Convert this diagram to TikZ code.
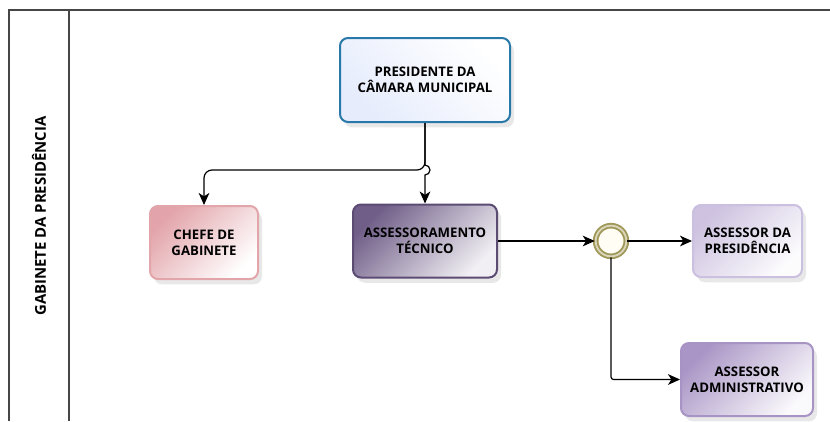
\documentclass[tikz,border=0pt]{standalone}
\usepackage{fontspec}
\setmainfont{Open Sans}
\usetikzlibrary{arrows.meta,shadows}

\definecolor{presborder}{RGB}{40,120,170}
\definecolor{presfill}{RGB}{230,236,252}
\definecolor{chefborder}{RGB}{226,166,170}
\definecolor{cheffill}{RGB}{226,164,170}
\definecolor{tecborder}{RGB}{92,76,116}
\definecolor{tecfill}{RGB}{112,94,136}
\definecolor{apborder}{RGB}{204,192,224}
\definecolor{apfill}{RGB}{206,194,224}
\definecolor{admborder}{RGB}{168,148,196}
\definecolor{admfill}{RGB}{170,150,198}
\definecolor{gateborder}{RGB}{160,152,88}
\definecolor{laneline}{RGB}{70,70,70}

\tikzset{
	task/.style={draw, line width=1.5pt, rounded corners=6pt, align=center,
		font=\bfseries\fontsize{9.9}{12}\selectfont, text=black,
		drop shadow={shadow xshift=3pt, shadow yshift=-4pt, opacity=0.18}},
	flow/.style={line width=0.9pt, -{Stealth[length=9pt,width=8pt,inset=2.5pt]}},
}

\begin{document}
\begin{tikzpicture}[x=0.75pt,y=0.75pt,yscale=-1,xscale=1]
	\useasboundingbox (0,0) rectangle (830,421);
	% pool and lane
	\draw [laneline, line width=1pt] (9,421) -- (9,10) -- (830,10) ;
	\draw [laneline, line width=1pt] (69,10) -- (69,421) ;
	\draw (39,216) node [rotate=90, font=\bfseries\fontsize{11.2}{13}\selectfont] (lane) {GABINETE DA PRESIDÊNCIA};
	% tasks
	\draw (425,80) node [task, draw=presborder, left color=presfill, right color=white, shading angle=135, minimum width=127.5pt, minimum height=63pt] (pres) {PRESIDENTE DA\\CÂMARA MUNICIPAL};
	\draw (204,242.5) node [task, draw=chefborder, top color=cheffill, bottom color=white, shading angle=45, minimum width=81pt, minimum height=54.75pt] (chefe) {CHEFE DE\\GABINETE};
	\draw (425,241) node [task, draw=tecborder, top color=tecfill, bottom color=white!90!tecfill, shading angle=45, minimum width=108pt, minimum height=54.75pt] (tec) {ASSESSORAMENTO\\TÉCNICO};
	\draw (747.5,241) node [task, draw=apborder, top color=apfill, bottom color=white!95!apfill, shading angle=45, minimum width=81.75pt, minimum height=54pt] (apres) {ASSESSOR DA\\PRESIDÊNCIA};
	\draw (747,379.5) node [task, draw=admborder, top color=admfill, bottom color=white!94!admfill, shading angle=45, minimum width=99pt, minimum height=54.75pt] (adm) {ASSESSOR\\ADMINISTRATIVO};
	% gateway
	\draw (611,241) node [circle, draw=gateborder, line width=1.4pt, fill={rgb,255:red,255; green,253; blue,244}, double=white!60!gateborder, double distance=1.4pt, minimum size=23pt, inner sep=0pt] (gate) {};
	% flows
	\coordinate (hop) at (425,170);
	\coordinate (hoptop) at (425,165);
	\draw [flow, rounded corners=6pt] (pres.south) -- (hop) -| (chefe.north);
	\draw [flow] (pres.south) -- (hoptop) arc (-90:90:5) -- (tec.north);
	\draw [flow] (tec.east) -- (gate.west);
	\draw [flow] (gate.east) -- (apres.west);
	\draw [flow, rounded corners=2pt] (gate.south) |- (adm.west);
\end{tikzpicture}
\end{document}
